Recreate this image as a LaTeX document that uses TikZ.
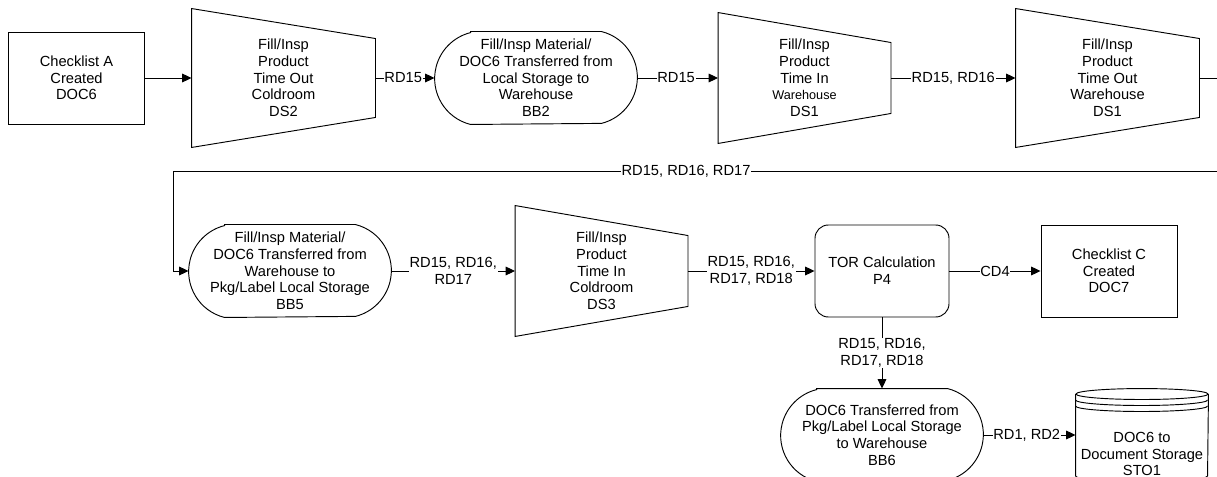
\documentclass[tikz,border=0pt]{standalone}
\usepackage{fontspec}
\setmainfont{Liberation Sans}
\usetikzlibrary{arrows.meta,calc}

\def \px {0.75pt}
\def \ins {30}

% trapezoid round a plain node, wide side left
\newcommand\trapbox[1]{\draw (#1.north west) -- ($(#1.north east)+(0,\ins)$)
  -- ($(#1.south east)+(0,-\ins)$) -- (#1.south west) -- cycle;}
% stadium with arc ends round a plain node
\newcommand\bbshape[1]{\draw ($(#1.north west)+(36,0)$) -- ($(#1.north east)+(-36,0)$)
  arc[start angle=76,end angle=-76,radius=35.5pt]
  -- ($(#1.south west)+(36,0)$)
  arc[start angle=256,end angle=104,radius=35.5pt] -- cycle;}

\begin{document}
\begin{tikzpicture}[x=\px,y=-\px,line width=0.7pt,
  every node/.style={font=\fontsize{11}{12.5}\selectfont,align=center},
  docbox/.style={draw,minimum width=136*\px,minimum height=92*\px},
  bbbox/.style={minimum width=202*\px,minimum height=92*\px},
  procbox/.style={draw,rounded corners=10pt,minimum width=134*\px,minimum height=92*\px},
  dsbig/.style={minimum width=183*\px,minimum height=138*\px},
  dssmall/.style={minimum width=172*\px,minimum height=130*\px},
  stobox/.style={minimum width=132*\px,minimum height=92*\px},
  flow/.style={-{Triangle[length=7pt,width=6.5pt]}},
  lbl/.style={fill=white,inner sep=0.5pt}]
  \useasboundingbox (0,0) rectangle (1217,477);

  %top row
  \node[docbox] (chkA) at (76.5,78) {Checklist A\\Created\\DOC6};
  \node[dsbig] (DS2) at (283.5,78) {Fill/Insp\\Product\\Time Out\\Coldroom\\DS2};
  \node[bbbox] (BB2) at (536,78) {Fill/Insp Material/\\DOC6 Transferred from\\Local Storage to\\Warehouse\\BB2};
  \node[dssmall] (DS1a) at (804.5,78) {Fill/Insp\\Product\\Time In\\{\fontsize{9.5}{12.5}\selectfont Warehouse}\\DS1};
  \node[dsbig] (DS1b) at (1107.5,78) {Fill/Insp\\Product\\Time Out\\Warehouse\\DS1};
  \trapbox{DS2} \trapbox{DS1a} \trapbox{DS1b}
  \bbshape{BB2}
  \coordinate (outR) at (1220,78);
  \coordinate (inR) at (1220,171);
  \coordinate (bend) at (173,171);

  %bottom rows
  \node[bbbox] (BB5) at (290,271) {Fill/Insp Material/\\DOC6 Transferred from\\Warehouse to\\Pkg/Label Local Storage\\BB5};
  \node[dssmall] (DS3) at (601.5,271) {Fill/Insp\\Product\\Time In\\Coldroom\\DS3};
  \trapbox{DS3} \bbshape{BB5}
  \node[procbox] (P4) at (882,271) {TOR Calculation\\P4};
  \node[docbox] (chkC) at (1109,271) {Checklist C\\Created\\DOC7};
  \node[bbbox] (BB6) at (882,435) {DOC6 Transferred from\\Pkg/Label Local Storage\\to Warehouse\\BB6};
  \bbshape{BB6}

  %storage
  \node[stobox] (STO1) at (1142,435) {};
  \draw ($(STO1.north west)+(0,5.5)$) -- ($(STO1.south west)+(0,-5.5)$)
    arc[start angle=180,end angle=360,x radius=49.5pt,y radius=4.1pt]
    -- ($(STO1.north east)+(0,5.5)$);
  \draw ($(STO1.north)+(0,5.5)$) ellipse[x radius=49.5pt,y radius=4.1pt];
  \draw ($(STO1.north west)+(0,11.5)$) arc[start angle=180,end angle=360,x radius=49.5pt,y radius=4.1pt];
  \draw ($(STO1.north west)+(0,17.5)$) arc[start angle=180,end angle=360,x radius=49.5pt,y radius=4.1pt];
  \node (STO1txt) at ($(STO1)+(0,19)$) {DOC6 to\\Document Storage\\STO1};

  %flows
  \draw[flow] (chkA) -- (DS2);
  \draw[flow] (DS2) -- node[lbl,pos=0.47] {RD15} (BB2);
  \draw[flow] (BB2) -- node[lbl,pos=0.48] {RD15} (DS1a);
  \draw[flow] (DS1a) -- node[lbl] {RD15, RD16} (DS1b);
  \draw (DS1b) -- (outR);
  \draw[flow] (inR) -- node[lbl,pos=0.51] {RD15, RD16, RD17} (bend) |- (BB5);
  \draw[flow] (BB5) -- node[lbl] {RD15, RD16,\\RD17} (DS3);
  \draw[flow] (DS3) -- node[lbl] {RD15, RD16,\\RD17, RD18} (P4);
  \draw[flow] (P4) -- node[lbl] {CD4} (chkC);
  \draw[flow] (P4) -- node[lbl] {RD15, RD16,\\RD17, RD18} (BB6);
  \draw[flow] (BB6) -- node[lbl,pos=0.47] {RD1, RD2} (STO1);
\end{tikzpicture}
\end{document}
